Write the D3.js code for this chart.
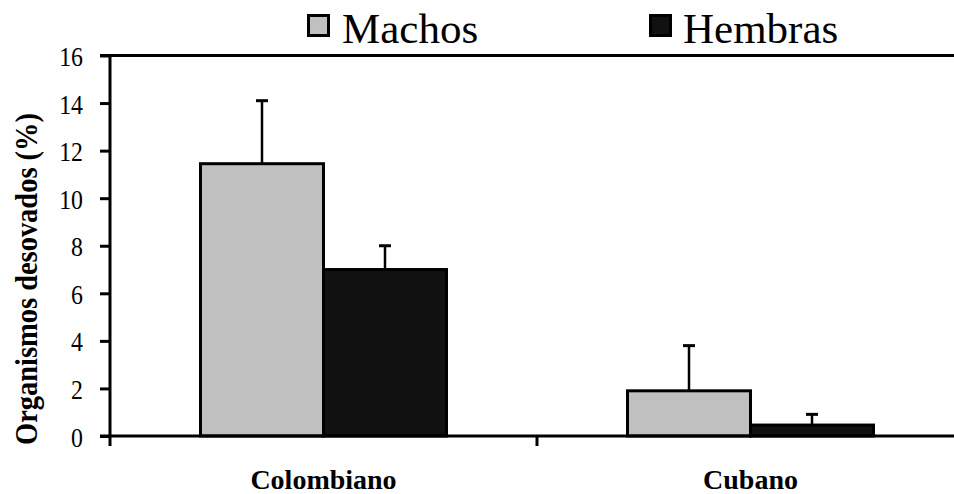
<!DOCTYPE html>
<html><head><meta charset="utf-8">
<script src="https://cdn.jsdelivr.net/npm/d3@7"></script>
<style>body{margin:0;background:#fff}svg{display:block}</style>
</head><body>
<script>
const categories = ["Colombiano", "Cubano"];
const seriesNames = ["Machos", "Hembras"];
const machos = [11.45, 1.9];
const hembras = [7.0, 0.46];
const machosErr = [2.65, 1.9];
const hembrasErr = [1.0, 0.45];
const yTicks = [0, 2, 4, 6, 8, 10, 12, 14, 16];
const colors = ["#c0c0c0", "#111111"];

const W = 954, H = 494;
const svg = d3.select("body").append("svg").attr("width", W).attr("height", H);
const m = {left: 110, top: 55.5, bottom: 436};
const plotRight = 964;
const FONT = "Liberation Serif, Times New Roman, serif";

const x = d3.scaleBand().domain(categories).range([m.left, plotRight]).paddingInner(0).paddingOuter(0);
const y = d3.scaleLinear().domain([0, 16]).range([m.bottom, m.top]);
const inner = d3.scaleBand().domain(seriesNames).range([0, 246]);
const offset = (x.bandwidth() - 246) / 2;

const data = categories.map((c, i) => ({
  cat: c,
  vals: [
    {s: "Machos", v: machos[i], e: machosErr[i], col: colors[0]},
    {s: "Hembras", v: hembras[i], e: hembrasErr[i], col: colors[1]}
  ]
}));

// top border
svg.append("line").attr("x1", m.left - 10).attr("x2", W).attr("y1", y(16)).attr("y2", y(16))
  .attr("stroke", "#000").attr("stroke-width", 3);

const g = svg.append("g");
data.forEach(d => {
  d.vals.forEach(v => {
    const cx = x(d.cat) + offset + inner(v.s) + inner.bandwidth() / 2;
    g.append("line").attr("x1", cx).attr("x2", cx).attr("y1", y(v.v)).attr("y2", y(v.v + v.e))
      .attr("stroke", "#000").attr("stroke-width", 2.5);
    g.append("line").attr("x1", cx - 6).attr("x2", cx + 6).attr("y1", y(v.v + v.e)).attr("y2", y(v.v + v.e))
      .attr("stroke", "#000").attr("stroke-width", 3);
  });
});
data.forEach(d => {
  d.vals.forEach(v => {
    const bx = x(d.cat) + offset + inner(v.s);
    g.append("rect").attr("x", bx).attr("y", y(v.v)).attr("width", inner.bandwidth())
      .attr("height", y(0) - y(v.v)).attr("fill", v.col).attr("stroke", "#000").attr("stroke-width", 3);
  });
});

// y axis
const sx = 0.85;
const yAxis = d3.axisLeft(y).tickValues(yTicks).tickSize(10).tickPadding(17).tickFormat(d3.format("d"));
const ya = svg.append("g").attr("transform", `translate(${m.left},0)`).call(yAxis);
ya.attr("font-family", FONT);
ya.select(".domain").attr("stroke-width", 3).attr("d", `M-0,${y(16)}V${y(0)}`);
ya.selectAll(".tick line").attr("stroke-width", 3);
ya.selectAll(".tick text").attr("font-family", FONT).attr("font-size", 28).attr("fill", "#000")
  .attr("x", -27 / sx).attr("dy", "0.36em").attr("transform", `scale(${sx},1)`);

// x axis
svg.append("line").attr("x1", m.left - 10).attr("x2", W).attr("y1", y(0)).attr("y2", y(0))
  .attr("stroke", "#000").attr("stroke-width", 3);
const xTickPos = [m.left, m.left + x.bandwidth()];
xTickPos.forEach(p => {
  svg.append("line").attr("x1", p).attr("x2", p).attr("y1", y(0)).attr("y2", y(0) + 10)
    .attr("stroke", "#000").attr("stroke-width", 3);
});
const labelW = [145, 86];
categories.forEach((c, i) => {
  svg.append("text").attr("x", x(c) + x.bandwidth() / 2).attr("y", 489)
    .attr("text-anchor", "middle").attr("font-family", FONT).attr("font-weight", "bold")
    .attr("font-size", 28).text(c);
});

// y title
svg.append("text").attr("transform", `translate(37,279) rotate(-90)`)
  .attr("text-anchor", "middle").attr("font-family", FONT).attr("font-weight", "bold")
  .attr("font-size", 31).attr("textLength", 332).attr("lengthAdjust", "spacingAndGlyphs")
  .text("Organismos desovados (%)");

// legend
const legBox = [307, 649];
const legText = [342, 683];
seriesNames.forEach((s, i) => {
  svg.append("rect").attr("x", legBox[i] + 1.5).attr("y", 15.5).attr("width", 20).attr("height", 20)
    .attr("fill", colors[i]).attr("stroke", "#000").attr("stroke-width", 3);
  svg.append("text").attr("x", legText[i]).attr("y", 43.3).attr("font-family", FONT)
    .attr("font-size", 43).attr("fill", "#000").text(s);
});
</script>
</body></html>
